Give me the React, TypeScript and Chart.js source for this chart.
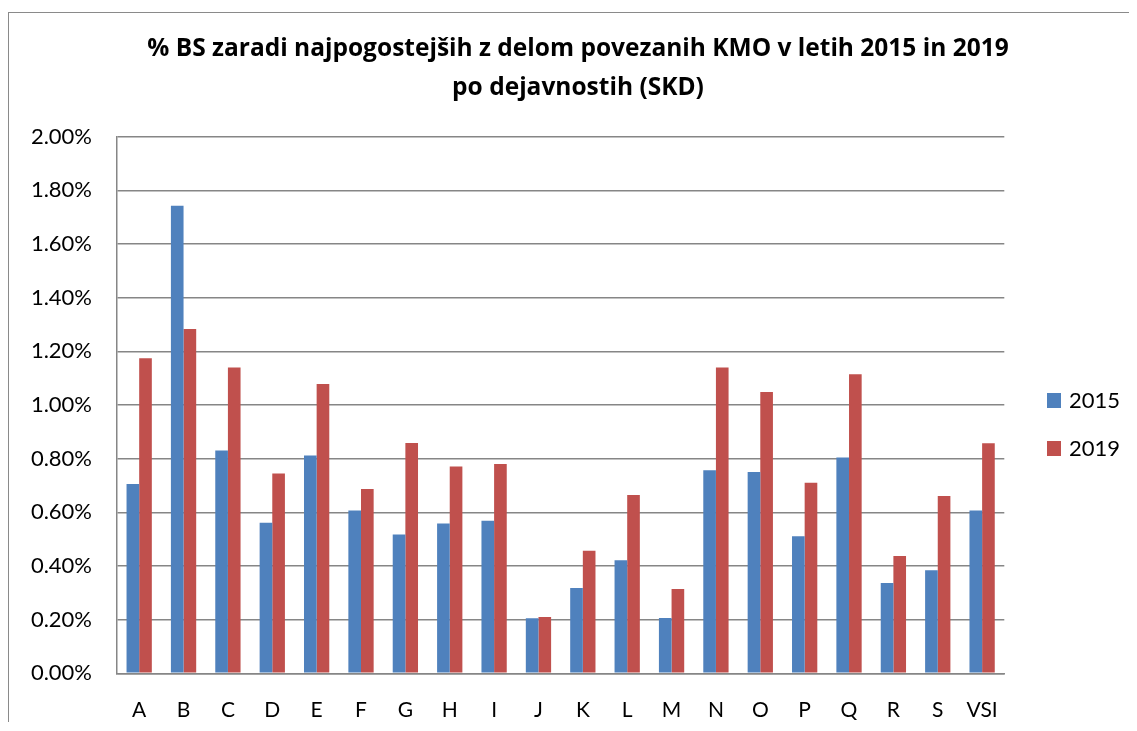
import React, { useEffect, useRef } from "react";
import { Chart, registerables } from "chart.js";

Chart.register(...registerables);

const categories = ["A", "B", "C", "D", "E", "F", "G", "H", "I", "J", "K", "L", "M", "N", "O", "P", "Q", "R", "S", "VSI"];
const series2015 = [0.706, 1.743, 0.830, 0.561, 0.812, 0.607, 0.517, 0.558, 0.569, 0.205, 0.318, 0.421, 0.206, 0.757, 0.750, 0.511, 0.804, 0.337, 0.384, 0.607];
const series2019 = [1.174, 1.283, 1.140, 0.745, 1.078, 0.687, 0.858, 0.771, 0.780, 0.210, 0.457, 0.665, 0.314, 1.140, 1.048, 0.710, 1.115, 0.437, 0.661, 0.857];
const seriesLabels = ["2015", "2019"];
const seriesColors = ["#4F81BD", "#C0504D"];
const titleLines = ["% BS zaradi najpogostejših z delom povezanih KMO v letih 2015 in 2019", "po dejavnostih (SKD)"];

const FONT = "Lato, 'Open Sans', sans-serif";
const TITLE_FONT = "'Open Sans', Lato, sans-serif";
const CANVAS_W = 1128;
const CANVAS_H = 709;
const GRID = "#868686";

export default function App() {
  const ref = useRef<HTMLCanvasElement | null>(null);

  useEffect(() => {
    if (!ref.current) return;
    const chart = new Chart(ref.current, {
      type: "bar",
      data: {
        labels: categories,
        datasets: [
          { label: seriesLabels[0], data: series2015, backgroundColor: seriesColors[0], categoryPercentage: 0.57, barPercentage: 1, yAxisID: "y" },
          { label: seriesLabels[1], data: series2019, backgroundColor: seriesColors[1], categoryPercentage: 0.57, barPercentage: 1, yAxisID: "y" },
        ],
      },
      options: {
        responsive: false,
        animation: false,
        layout: { padding: { left: 10, right: 0, top: 0, bottom: 0 } },
        plugins: {
          legend: { display: false },
          tooltip: { enabled: false },
          title: {
            display: true,
            text: titleLines,
            color: "#000",
            font: { family: TITLE_FONT, size: 24.5, weight: "bold", lineHeight: 39 / 24.5 },
            padding: { top: 17, bottom: 28.7 },
          },
        },
        scales: {
          x: {
            grid: { display: false, drawTicks: false },
            border: { display: true, color: GRID, width: 1.5 },
            ticks: { color: "#000", font: { family: FONT, size: 21 }, padding: 24, maxRotation: 0, autoSkip: false },
            afterFit: (s: any) => { s.height = CANVAS_H - 660.3; },
          },
          y: {
            min: 0,
            max: 2,
            grid: { color: GRID, lineWidth: 1.5, drawTicks: false },
            border: { display: true, color: GRID, width: 1.5 },
            ticks: {
              stepSize: 0.2,
              color: "#000",
              font: { family: FONT, size: 22 },
              padding: 25,
              callback: (v: any) => Number(v).toFixed(2) + "%",
            },
            afterFit: (s: any) => { s.width = 98; },
          },
          legendSpace: {
            type: "linear",
            position: "right",
            display: true,
            grid: { display: false, drawTicks: false },
            border: { display: false },
            ticks: { display: false },
            afterFit: (s: any) => { s.width = 132.7; },
          },
        },
      },
    });
    return () => chart.destroy();
  }, []);

  const legendItem = (i: number, top: number) => (
    <div key={i} style={{ position: "absolute", left: 1038, top, display: "flex", alignItems: "center", height: 24 }}>
      <div style={{ width: 14, height: 15, background: seriesColors[i] }} />
      <span style={{ marginLeft: 8, fontFamily: FONT, fontSize: 22, lineHeight: "24px", color: "#000" }}>{seriesLabels[i]}</span>
    </div>
  );

  return (
    <div style={{ paddingTop: 4 }}>
      <div style={{ position: "relative", width: CANVAS_W, height: CANVAS_H, borderLeft: "1px solid #8a8a8a", borderTop: "1px solid #8a8a8a" }}>
        <canvas ref={ref} width={CANVAS_W} height={CANVAS_H} style={{ display: "block", width: CANVAS_W, height: CANVAS_H }} />
        {legendItem(0, 375)}
        {legendItem(1, 423)}
      </div>
    </div>
  );
}
